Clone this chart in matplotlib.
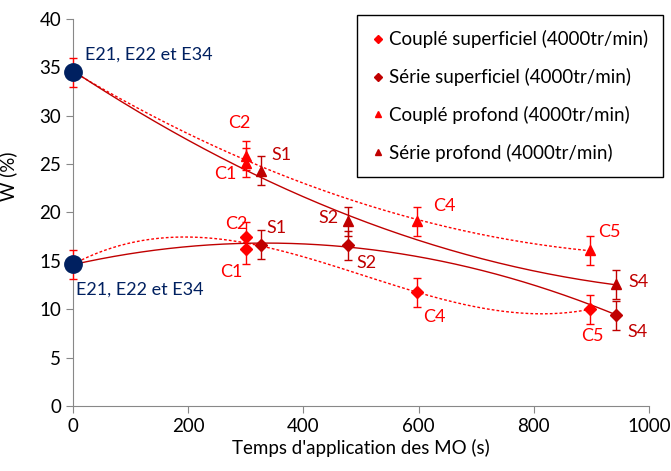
import numpy as np
import matplotlib.pyplot as plt
from matplotlib.lines import Line2D

plt.rcParams['font.family'] = ['Lato', 'DejaVu Sans']

# Starting points (E21, E22 et E34)
x0 = 0
w0_prof = 34.5
w0_sup = 14.65

# Couplé superficiel
cs_x = [300, 300, 598, 898]
cs_y = [16.2, 17.5, 11.75, 10.0]
# Série superficiel
ss_x = [327, 477, 943]
ss_y = [16.65, 16.6, 9.4]
# Couplé profond
cp_x = [300, 300, 598, 898]
cp_y = [25.15, 25.85, 19.1, 16.1]
# Série profond
sp_x = [327, 477, 943]
sp_y = [24.3, 19.1, 12.6]
err = 1.5

names = ['Couplé superficiel (4000tr/min)', 'Série superficiel (4000tr/min)',
         'Couplé profond (4000tr/min)', 'Série profond (4000tr/min)']

red = '#FF0000'
dark = '#C00000'
navy = '#002060'

fig, ax = plt.subplots(figsize=(6.71, 4.71), dpi=100)
fig.subplots_adjust(left=0.1088, right=0.9672, bottom=0.138, top=0.9597)

def trend(xs, ys, start, deg, color, ls):
    px = np.array([0] + xs, dtype=float)
    py = np.array([start] + ys, dtype=float)
    c = np.polyfit(px, py, deg)
    xx = np.linspace(0, max(xs), 200)
    ax.plot(xx, np.polyval(c, xx), color=color, ls=ls, lw=1)

dash = (0, (2, 1.5))
trend(cs_x, cs_y, w0_sup, 3, red, dash)
trend(ss_x, ss_y, w0_sup, 2, dark, '-')
trend(cp_x, cp_y, w0_prof, 2, red, dash)
trend(sp_x, sp_y, w0_prof, 2, dark, '-')

ek = dict(yerr=err, ls='none', capsize=3, elinewidth=1, capthick=1)
ax.errorbar(cs_x, cs_y, fmt='D', color=red, ms=6, **ek)
ax.errorbar(ss_x, ss_y, fmt='D', color=dark, ms=6, **ek)
ax.errorbar(cp_x, cp_y, fmt='^', color=red, ms=7, **ek)
ax.errorbar(sp_x, sp_y, fmt='^', color=dark, ms=7, **ek)
ax.errorbar([x0, x0], [w0_prof, w0_sup], yerr=err, fmt='o', color=navy, ms=12.5,
            ecolor=red, capsize=3, elinewidth=1, capthick=1, zorder=5, clip_on=False)

labels = [
    ('C2', 289, 29.2, red), ('C1', 264, 24.0, red), ('S1', 362, 25.9, dark),
    ('S2', 443, 19.4, dark), ('C4', 644, 20.7, red), ('C5', 932, 17.95, red),
    ('S4', 981, 12.85, dark), ('C2', 284, 18.8, red), ('S1', 354, 18.4, dark),
    ('C1', 275, 13.8, red), ('S2', 510, 14.75, dark), ('C4', 628, 9.2, red),
    ('C5', 902, 7.2, red), ('S4', 980, 7.7, dark),
]
for t, x, y, c in labels:
    ax.text(x, y, t, color=c, fontsize=13, ha='center', va='center')
ax.text(21, 36.3, 'E21, E22 et E34', color=navy, fontsize=13, va='center')
ax.text(6, 12.0, 'E21, E22 et E34', color=navy, fontsize=13, va='center')

ax.set_xlim(0, 1000)
ax.set_ylim(0, 40)
ax.set_xticks(range(0, 1001, 200))
ax.set_yticks(range(0, 41, 5))
ax.set_xlabel("Temps d'application des MO (s)", fontsize=13.5, labelpad=3)
ax.set_ylabel('W (%)', fontsize=13.5)
ax.yaxis.set_label_coords(-0.097, 0.594)
ax.tick_params(labelsize=13.5, color='#888888', direction='out', length=5)
for s in ['top', 'right']:
    ax.spines[s].set_visible(False)
for s in ['left', 'bottom']:
    ax.spines[s].set_color('#888888')

handles = [Line2D([], [], ls='none', marker='D', color=red, ms=4),
           Line2D([], [], ls='none', marker='D', color=dark, ms=4),
           Line2D([], [], ls='none', marker='^', color=red, ms=5),
           Line2D([], [], ls='none', marker='^', color=dark, ms=5)]
leg = ax.legend(handles, names, loc='upper left', bbox_to_anchor=(357 / 671, 1 - 15 / 471),
                bbox_transform=fig.transFigure, fontsize=13.5,
                labelspacing=1.05, handletextpad=0.28, handlelength=0.6,
                borderpad=0.82, fancybox=False, framealpha=1, borderaxespad=0)
leg.get_frame().set_edgecolor('black')
leg.get_frame().set_linewidth(1)

fig.savefig('out.png')
